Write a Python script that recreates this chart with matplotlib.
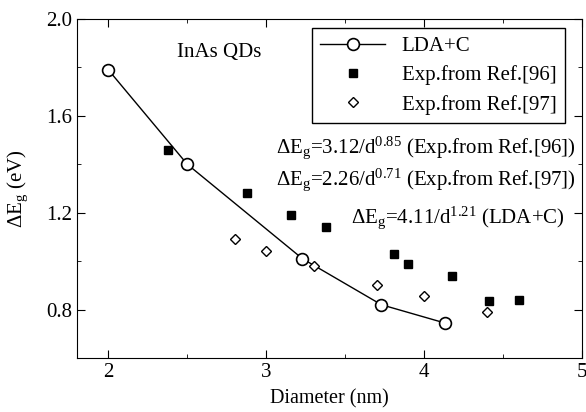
import matplotlib
matplotlib.use('Agg')
import matplotlib.pyplot as plt
from matplotlib.ticker import MultipleLocator

plt.rcParams['font.family'] = ['Liberation Serif', 'DejaVu Serif']
plt.rcParams['mathtext.fontset'] = 'custom'
plt.rcParams['mathtext.rm'] = 'Liberation Serif'
plt.rcParams['mathtext.it'] = 'Liberation Serif:italic'

# LDA+C
d_lda = [2.0, 2.5, 3.23, 3.73, 4.13]
e_lda = [1.79, 1.40, 1.01, 0.82, 0.745]
# Exp. from Ref.[96]
d_96 = [2.38, 2.88, 3.16, 3.38, 3.81, 3.90, 4.18, 4.41, 4.60]
e_96 = [1.46, 1.28, 1.19, 1.14, 1.03, 0.99, 0.94, 0.835, 0.84]
# Exp. from Ref.[97]
d_97 = [2.80, 3.00, 3.30, 3.70, 4.00, 4.40]
e_97 = [1.09, 1.04, 0.98, 0.90, 0.855, 0.79]

fs = 15

fig = plt.figure(figsize=(5.86, 4.12), dpi=100)
ax = fig.add_axes([0.131, 0.131, 0.862, 0.823])

ax.plot(d_lda, e_lda, '-o', color='black', lw=1.0, ms=8.5, mfc='white', mec='black', mew=1.2, label='LDA+C')
ax.plot(d_96, e_96, 's', color='black', ms=5.5, ls='none', label='Exp.from Ref.[96]')
ax.plot(d_97, e_97, 'D', color='black', ms=5, mfc='white', mew=1.0, ls='none', label='Exp.from Ref.[97]')

ax.set_xlim(1.8, 5.0)
ax.set_ylim(0.6, 2.0)
ax.xaxis.set_major_locator(MultipleLocator(1))
ax.xaxis.set_minor_locator(MultipleLocator(0.5))
ax.yaxis.set_minor_locator(MultipleLocator(0.2))
ax.set_yticks([0.8, 1.2, 1.6, 2.0])
ax.set_yticklabels(['0.8', '1.2', '1.6', '2.0'])
ax.tick_params(which='both', direction='in', top=True, right=True, labelsize=fs)
ax.tick_params(which='major', length=6)
ax.tick_params(which='minor', length=3)

ax.set_xlabel('Diameter (nm)', fontsize=14.5, labelpad=5)
ax.set_ylabel(r'ΔE$_{\rm g}$ (eV)', fontsize=fs)
ax.yaxis.set_label_coords(-0.092, 0.5)

ax.text(2.70, 1.86, 'InAs QDs', fontsize=fs, ha='center', va='center')

leg = ax.legend(loc='upper right', bbox_to_anchor=(0.966, 0.973), borderaxespad=0,
                fontsize=fs, fancybox=False, edgecolor='black', framealpha=1,
                handlelength=3.1, handletextpad=0.8, numpoints=1, labelspacing=0.45)
leg.get_frame().set_linewidth(1.0)

ax.text(0.988, 0.62, r'ΔE$_{\rm g}$=3.12/d$^{0.85}$ (Exp.from Ref.[96])', transform=ax.transAxes,
        fontsize=fs, ha='right', va='center')
ax.text(0.988, 0.525, r'ΔE$_{\rm g}$=2.26/d$^{0.71}$ (Exp.from Ref.[97])', transform=ax.transAxes,
        fontsize=fs, ha='right', va='center')
ax.text(0.966, 0.413, r'ΔE$_{\rm g}$=4.11/d$^{1.21}$ (LDA+C)', transform=ax.transAxes,
        fontsize=fs, ha='right', va='center')

fig.savefig('out.png', dpi=100)
